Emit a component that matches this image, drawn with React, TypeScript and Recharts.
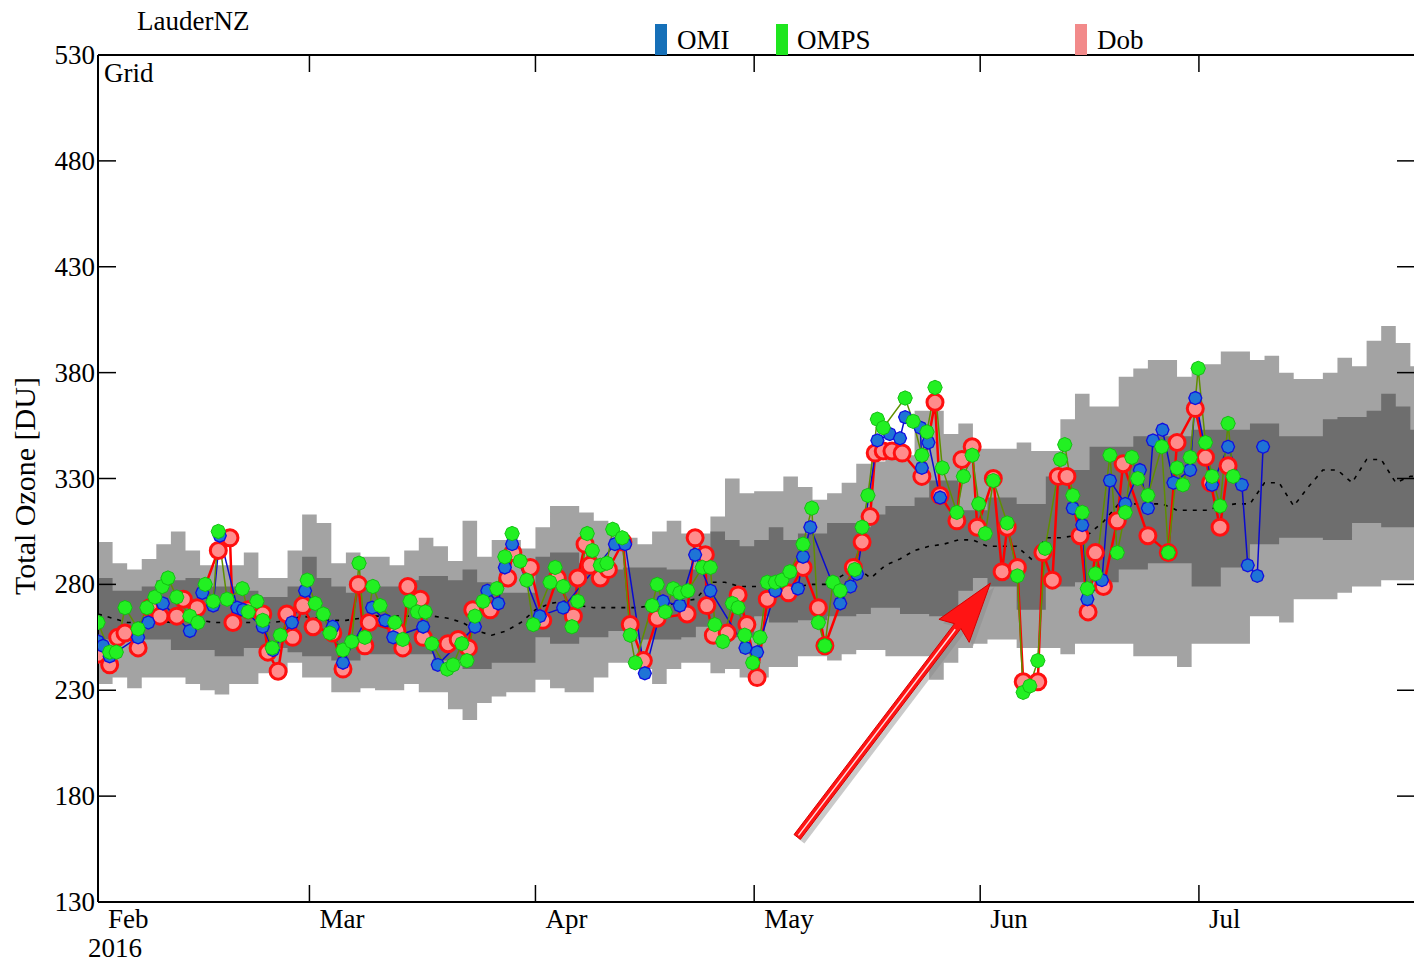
import React from "react";
import { ComposedChart, Area, Line, XAxis, YAxis, ReferenceLine } from "recharts";

const CHART_W = 1414;
const CHART_H = 964;
const PLOT_TOP = 55;
const SERIF = '"Liberation Serif", "Times New Roman", serif';

// x axis is days since 1 Feb 2016
const monthTicks = [0, 29, 60, 90, 121, 151];
const monthLabels = ["Feb", "Mar", "Apr", "May", "Jun", "Jul"];
const ozoneTicks = [130, 180, 230, 280, 330, 380, 430, 480, 530];

// climatology envelope, one value per 2 days starting 1 Feb
const outerHigh = [
  300, 290, 287, 292, 299, 305, 296, 289, 289, 289,
  295, 283, 283, 296, 313, 309, 290, 295, 293, 293,
  289, 296, 302, 298, 291, 310, 293, 301, 301, 297,
  307, 317, 317, 314, 310, 305, 302, 299, 305, 310,
  304, 304, 312, 330, 323, 324, 324, 331, 326, 320,
  323, 328, 337, 338, 341, 341, 362, 362, 351, 356,
  344, 344, 344, 347, 343, 343, 358, 370, 364, 364,
  378, 382, 386, 386, 378, 384, 384, 390, 390, 386,
  388, 380, 377, 377, 380, 387, 383, 395, 402, 394,
  383,
];
const outerLow = [
  233, 236, 231, 236, 236, 236, 233, 230, 228, 233,
  233, 238, 238, 243, 236, 236, 229, 229, 231, 230,
  230, 233, 229, 229, 221, 216, 224, 227, 229, 229,
  235, 231, 229, 229, 236, 243, 243, 240, 233, 240,
  243, 243, 238, 240, 236, 236, 241, 241, 246, 246,
  244, 247, 249, 249, 246, 246, 246, 235, 243, 250,
  252, 254, 254, 250, 250, 250, 247, 252, 252, 252,
  252, 246, 246, 246, 241, 252, 252, 252, 252, 265,
  265, 262, 273, 273, 273, 276, 279, 279, 282, 282,
  282,
];
const innerHigh = [
  283, 277, 277, 279, 282, 282, 283, 279, 279, 279,
  277, 274, 274, 279, 293, 283, 279, 276, 279, 279,
  279, 282, 284, 284, 282, 287, 281, 276, 276, 276,
  293, 295, 295, 290, 290, 287, 288, 288, 288, 287,
  287, 287, 305, 301, 298, 301, 307, 301, 304, 304,
  309, 309, 307, 313, 317, 317, 321, 329, 329, 315,
  315, 321, 321, 318, 318, 331, 334, 334, 345, 345,
  345, 350, 350, 350, 350, 353, 353, 353, 353, 356,
  356, 350, 350, 350, 358, 359, 359, 362, 370, 364,
  353,
];
const innerLow = [
  254, 254, 254, 254, 254, 249, 249, 249, 246, 246,
  250, 250, 250, 248, 246, 246, 244, 244, 247, 247,
  247, 247, 247, 244, 244, 240, 240, 243, 243, 243,
  255, 252, 252, 255, 255, 258, 258, 254, 254, 254,
  255, 260, 260, 255, 255, 265, 262, 262, 263, 263,
  265, 265, 266, 269, 269, 266, 266, 265, 265, 277,
  283, 279, 279, 268, 268, 279, 279, 281, 281, 281,
  287, 287, 290, 290, 290, 279, 279, 288, 288, 299,
  299, 302, 302, 302, 301, 301, 309, 309, 307, 307,
  307,
];
const median = [
  266, 264, 262, 262, 263, 262, 263, 263, 262, 262,
  262, 262, 262, 263, 265, 264, 263, 263, 264, 265,
  265, 265, 265, 265, 264, 262, 258, 256, 258, 262,
  268, 271, 272, 270, 269, 269, 269, 269, 270, 270,
  272, 273, 281, 281, 279, 279, 279, 279, 279, 280,
  280, 284, 288, 283, 289, 292, 296, 298, 299, 301,
  301, 298, 298, 298, 292, 302, 302, 303, 304, 310,
  318, 318, 318, 318, 315, 315, 315, 317, 318, 318,
  328, 328, 317, 326, 334, 334, 328, 339, 339, 328,
  331,
];

// observations: [day, total ozone DU]
const dobObs: [number, number][] = [
  [0, 247], [1.6, 242], [2.7, 255], [3.7, 257], [5.5, 250], [7.1, 269], [8.5, 265], [10.8, 265],
  [11.7, 273], [13.6, 269], [16.5, 296], [18.1, 302], [18.5, 262], [20.6, 268], [22.6, 266],
  [23.3, 248], [24.7, 239], [25.9, 266], [26.7, 255], [28.1, 270], [29.5, 260], [32.2, 257],
  [33.6, 240], [35.7, 280], [36.6, 251], [37.2, 262], [41, 258], [41.8, 250], [42.5, 279],
  [44.2, 273], [44.6, 255], [48, 252], [49.4, 254], [50.8, 250], [51.4, 268], [53.8, 268],
  [56.2, 283], [56.9, 295], [59.3, 288], [61, 263], [63, 283], [65.2, 265], [65.8, 283],
  [66.8, 299], [67.5, 289], [68.9, 283], [70, 287], [72, 300], [73, 261], [74.8, 244],
  [76.7, 264], [80.8, 266], [81.9, 302], [83.3, 294], [83.5, 270], [84.4, 256], [86.3, 257],
  [87.8, 275], [89, 261], [90.4, 236], [91.8, 273], [94.7, 276], [96.7, 288], [98.8, 269],
  [99.7, 251], [103.6, 288], [104.8, 300], [105.9, 312], [106.6, 342], [107.7, 343],
  [108.9, 343], [110.3, 342], [113, 331], [114.8, 366], [115.5, 322], [117.8, 310],
  [118.5, 339], [119.9, 345], [120.6, 307], [122.8, 330], [124, 286], [124.7, 307],
  [126.1, 288], [126.9, 234], [128.9, 234], [129.6, 295], [130.9, 282], [131.7, 331],
  [132.9, 331], [134.7, 303], [135.8, 267], [136.8, 295], [137.9, 279], [139.8, 310],
  [140.6, 337], [144, 303], [146.8, 295], [148, 347], [150.5, 363], [151.9, 340],
  [152.6, 328], [153.9, 307], [155, 336],
];
const omiObs: [number, number | null][] = [
  [0, 253], [0.7, 251], [1.6, 246], [5.5, 255], [6.9, 262], [8.9, 271], [12.6, 258], [14.3, 276],
  [15.8, 270], [16.7, 303], [19.1, 269], [19.9, 268], [22.6, 260], [24, 249], [26.6, 262],
  [28.4, 277], [32.2, 260], [33.6, 243], [37.6, 269], [39.4, 263], [40.5, 255], [44.6, 260],
  [46.6, 242], [51.7, 260], [53.4, 277], [54.9, 271], [55.8, 288], [56.8, 299], [60.6, 265],
  [63.8, 269], [70.9, 299], [72.3, 299], [75, 238], [77.5, 272], [79.8, 270], [81.9, 294],
  [84, 277], [88.8, 250], [90.4, 248], [92.9, 277], [96, 278], [96.7, 293], [97.7, 307],
  [101.8, 271], [103.2, 279], [104.1, 285], [106.9, 348], [108.6, 351], [110, 349],
  [110.7, 359], [112.8, 354], [113, 335], [113.9, 347], [115.5, 321],
  [124, null], // no OMI data through early June
  [133.7, 316], [135, 308], [135.7, 273], [137.7, 282], [138.8, 329], [140.9, 318],
  [142.9, 334], [144, 316], [144.7, 348], [146, 353], [147.5, 328], [149.8, 334],
  [150.5, 368], [152.8, 327], [155, 345], [156.9, 327], [157.7, 289], [159, 284], [159.8, 345],
];
const ompsObs: [number, number][] = [
  [0, 262], [1.6, 248], [2.5, 248], [3.7, 269], [5.5, 259], [6.7, 269], [7.8, 274], [8.8, 279],
  [9.6, 283], [10.8, 274], [12.6, 265], [13.7, 262], [14.7, 280], [15.8, 272], [16.5, 305],
  [17.7, 273], [19.8, 278], [20.6, 267], [21.8, 272], [22.6, 263], [23.9, 250], [25, 256],
  [28.7, 282], [29.8, 271], [30.9, 266], [31.8, 257], [33.6, 249], [34.8, 253], [35.8, 290],
  [36.6, 255], [37.7, 279], [38.7, 270], [40.7, 262], [41.8, 254], [42.8, 272], [43.8, 267],
  [44.9, 267], [45.8, 252], [47.9, 240], [48.7, 242], [49.9, 252], [50.6, 244], [51.7, 265],
  [52.8, 272], [54.7, 278], [55.8, 293], [56.8, 304], [57.9, 291], [58.8, 282], [59.7, 261],
  [62, 281], [62.7, 288], [63.8, 279], [65, 260], [65.8, 272], [67.1, 304], [67.8, 296],
  [68.9, 289], [69.8, 290], [70.6, 306], [71.9, 302], [73, 256], [73.7, 243], [76, 270],
  [76.7, 280], [77.8, 267], [78.9, 278], [79.8, 276], [80.9, 277], [82.9, 288], [84, 288],
  [84.6, 261], [85.7, 253], [87, 271], [87.8, 269], [88.7, 256], [89.8, 243], [90.8, 255],
  [91.8, 281], [92.9, 281], [93.8, 282], [94.9, 286], [96.7, 299], [97.9, 316], [98.8, 262],
  [99.7, 251], [100.8, 281], [101.8, 277], [103.8, 287], [104.8, 307], [105.6, 322],
  [106.9, 358], [107.7, 354], [110.7, 368], [111.8, 357], [113, 341], [113.7, 352],
  [114.8, 373], [115.8, 335], [117.8, 314], [118.7, 331], [119.9, 341], [120.8, 318],
  [121.7, 304], [122.8, 329], [124.7, 309], [126.1, 284], [126.9, 229], [127.8, 232],
  [128.9, 244], [129.9, 297], [132, 339], [132.6, 346], [133.7, 322], [135, 314],
  [135.7, 278], [136.8, 285], [138.8, 341], [139.8, 295], [140.9, 314], [141.8, 340],
  [142.6, 330], [144, 322], [145.9, 345], [146.8, 295], [148, 335], [148.8, 327],
  [149.8, 340], [150.9, 382], [151.9, 347], [152.8, 331], [153.9, 317], [155, 356], [155.7, 331],
];

// annotation arrow, tail and tip in (day, DU)
const arrowFrom = { day: 95.9, du: 160.7 };
const arrowTo = { day: 122.4, du: 280.6 };

const bandRows = outerHigh.map((hi, i) => ({
  day: i * 2,
  outer: [outerLow[i], hi],
  inner: [innerLow[i], innerHigh[i]],
  median: median[i],
}));
// close the last step past the right edge
bandRows.push({ ...bandRows[bandRows.length - 1], day: bandRows.length * 2 });

const toRows = (obs: [number, number | null][]) => obs.map(([day, du]) => ({ day, du }));

function octagon(cx: number, cy: number, r: number) {
  const pts: string[] = [];
  for (let i = 0; i < 8; i++) {
    const a = (Math.PI / 4) * i;
    pts.push(`${cx + r * Math.cos(a)},${cy + r * Math.sin(a)}`);
  }
  return pts.join(" ");
}

// eslint-disable-next-line @typescript-eslint/no-explicit-any
const renderDob = (p: any) => {
  if (p.cx == null || p.cy == null || p.value == null) return <g key={p.index} />;
  return <circle key={p.index} cx={p.cx} cy={p.cy} r={8} fill="#ff8c8c" stroke="#ff1010" strokeWidth={3} />;
};
// eslint-disable-next-line @typescript-eslint/no-explicit-any
const renderOmi = (p: any) => {
  if (p.cx == null || p.cy == null || p.value == null) return <g key={p.index} />;
  return <polygon key={p.index} points={octagon(p.cx, p.cy, 6.5)} fill="#1f74d6" stroke="#1010e0" strokeWidth={1.3} />;
};
// eslint-disable-next-line @typescript-eslint/no-explicit-any
const renderOmps = (p: any) => {
  if (p.cx == null || p.cy == null || p.value == null) return <g key={p.index} />;
  return <polygon key={p.index} points={octagon(p.cx, p.cy, 7.2)} fill="#22f022" stroke="#12c012" strokeWidth={1} />;
};

// eslint-disable-next-line @typescript-eslint/no-explicit-any
function MonthTick({ x, y, payload }: any) {
  const label = monthLabels[monthTicks.indexOf(payload.value)];
  return (
    <g>
      <line x1={x} y1={y} x2={x} y2={y - 17} stroke="#000" strokeWidth={1.5} />
      <line x1={x} y1={PLOT_TOP} x2={x} y2={PLOT_TOP + 17} stroke="#000" strokeWidth={1.5} />
      <text x={x + 10} y={y + 26} fontSize={27} fontFamily={SERIF} fill="#000">
        {label}
      </text>
      {payload.value === 0 && (
        <text x={x - 10} y={y + 55} fontSize={27} fontFamily={SERIF} fill="#000">
          2016
        </text>
      )}
    </g>
  );
}

// eslint-disable-next-line @typescript-eslint/no-explicit-any
function OzoneTick({ x, y, payload }: any) {
  return (
    <g>
      <line x1={x} y1={y} x2={x + 18} y2={y} stroke="#000" strokeWidth={1.5} />
      <line x1={CHART_W - 17} y1={y} x2={CHART_W} y2={y} stroke="#000" strokeWidth={1.5} />
      <text x={x - 3} y={y + 9} textAnchor="end" fontSize={27} fontFamily={SERIF} fill="#000">
        {payload.value}
      </text>
    </g>
  );
}

// eslint-disable-next-line @typescript-eslint/no-explicit-any
function ArrowShape({ x1, y1, x2, y2 }: any) {
  const dx = x2 - x1;
  const dy = y2 - y1;
  const len = Math.hypot(dx, dy);
  const ux = dx / len;
  const uy = dy / len;
  const nx = -uy;
  const ny = ux;
  const headLen = 54;
  const headHalf = 19;
  const shaftHalf = 4;
  const bx = x2 - ux * headLen;
  const by = y2 - uy * headLen;
  const pts = [
    [x1 + nx * shaftHalf, y1 + ny * shaftHalf],
    [bx + nx * shaftHalf, by + ny * shaftHalf],
    [bx - ux * 6 + nx * headHalf, by - uy * 6 + ny * headHalf],
    [x2, y2],
    [bx - ux * 6 - nx * headHalf, by - uy * 6 - ny * headHalf],
    [bx - nx * shaftHalf, by - ny * shaftHalf],
    [x1 - nx * shaftHalf, y1 - ny * shaftHalf],
  ];
  const path = pts.map((p) => p.join(",")).join(" ");
  return (
    <g>
      <polygon points={path} fill="#8a8a8a" opacity={0.45} transform="translate(4,4)" />
      <polygon points={path} fill="#ff1414" stroke="#d80000" strokeWidth={1} />
      <line
        x1={x1 + ux * 2}
        y1={y1 + uy * 2}
        x2={bx - ux * 4}
        y2={by - uy * 4}
        stroke="#ffe0e0"
        strokeWidth={1.4}
      />
    </g>
  );
}

export default function App() {
  return (
    <div
      style={{
        position: "absolute",
        left: 0,
        top: 0,
        width: CHART_W,
        height: CHART_H,
        background: "#fff",
        overflow: "hidden",
      }}
    >
      <ComposedChart
        width={CHART_W}
        height={CHART_H}
        data={bandRows}
        margin={{ top: PLOT_TOP, right: 0, bottom: 0, left: 0 }}
      >
        <XAxis
          type="number"
          dataKey="day"
          domain={[0, 180.5]}
          ticks={monthTicks}
          interval={0}
          allowDataOverflow
          height={62}
          tickLine={false}
          tickSize={0}
          tickMargin={0}
          axisLine={{ stroke: "#000", strokeWidth: 2 }}
          tick={(p) => <MonthTick {...p} />}
        />
        <YAxis
          type="number"
          domain={[130, 530]}
          ticks={ozoneTicks}
          interval={0}
          allowDataOverflow
          width={98}
          tickLine={false}
          tickSize={0}
          tickMargin={0}
          axisLine={{ stroke: "#000", strokeWidth: 2 }}
          tick={(p) => <OzoneTick {...p} />}
        />
        <Area
          dataKey="outer"
          type="stepAfter"
          stroke="none"
          fill="#a3a3a3"
          fillOpacity={1}
          activeDot={false}
          isAnimationActive={false}
        />
        <Area
          dataKey="inner"
          type="stepAfter"
          stroke="none"
          fill="#6e6e6e"
          fillOpacity={1}
          activeDot={false}
          isAnimationActive={false}
        />
        <Line
          dataKey="median"
          type="linear"
          stroke="#000"
          strokeWidth={1.6}
          strokeDasharray="4 6"
          dot={false}
          activeDot={false}
          isAnimationActive={false}
        />
        <Line
          data={toRows(dobObs)}
          dataKey="du"
          stroke="#ff0000"
          strokeWidth={2.5}
          dot={renderDob}
          activeDot={false}
          isAnimationActive={false}
        />
        <Line
          data={toRows(omiObs)}
          dataKey="du"
          stroke="#0a0ad0"
          strokeWidth={1.5}
          dot={renderOmi}
          activeDot={false}
          isAnimationActive={false}
        />
        <Line
          data={toRows(ompsObs)}
          dataKey="du"
          stroke="#5f8f00"
          strokeWidth={1.5}
          dot={renderOmps}
          activeDot={false}
          isAnimationActive={false}
        />
        <ReferenceLine y={530} stroke="#000" strokeWidth={2} />
        <ReferenceLine
          segment={[
            { x: arrowFrom.day, y: arrowFrom.du },
            { x: arrowTo.day, y: arrowTo.du },
          ]}
          shape={(p: unknown) => <ArrowShape {...(p as object)} />}
        />
      </ComposedChart>

      <svg
        width={CHART_W}
        height={CHART_H}
        style={{ position: "absolute", left: 0, top: 0, pointerEvents: "none" }}
        fontFamily={SERIF}
        fontSize={27}
      >
        <text x={137} y={30}>LauderNZ</text>
        <text x={104} y={82}>Grid</text>
        <rect x={655} y={24} width={12} height={31} fill="#1670b8" />
        <text x={677} y={49}>OMI</text>
        <rect x={776} y={24} width={12} height={31} fill="#1ee61e" />
        <text x={797} y={49}>OMPS</text>
        <rect x={1075} y={24} width={12} height={31} fill="#f28a8a" />
        <text x={1097} y={49}>Dob</text>
        <text transform="translate(35,486) rotate(-90)" textAnchor="middle" fontSize={30}>
          Total Ozone [DU]
        </text>
      </svg>
    </div>
  );
}
